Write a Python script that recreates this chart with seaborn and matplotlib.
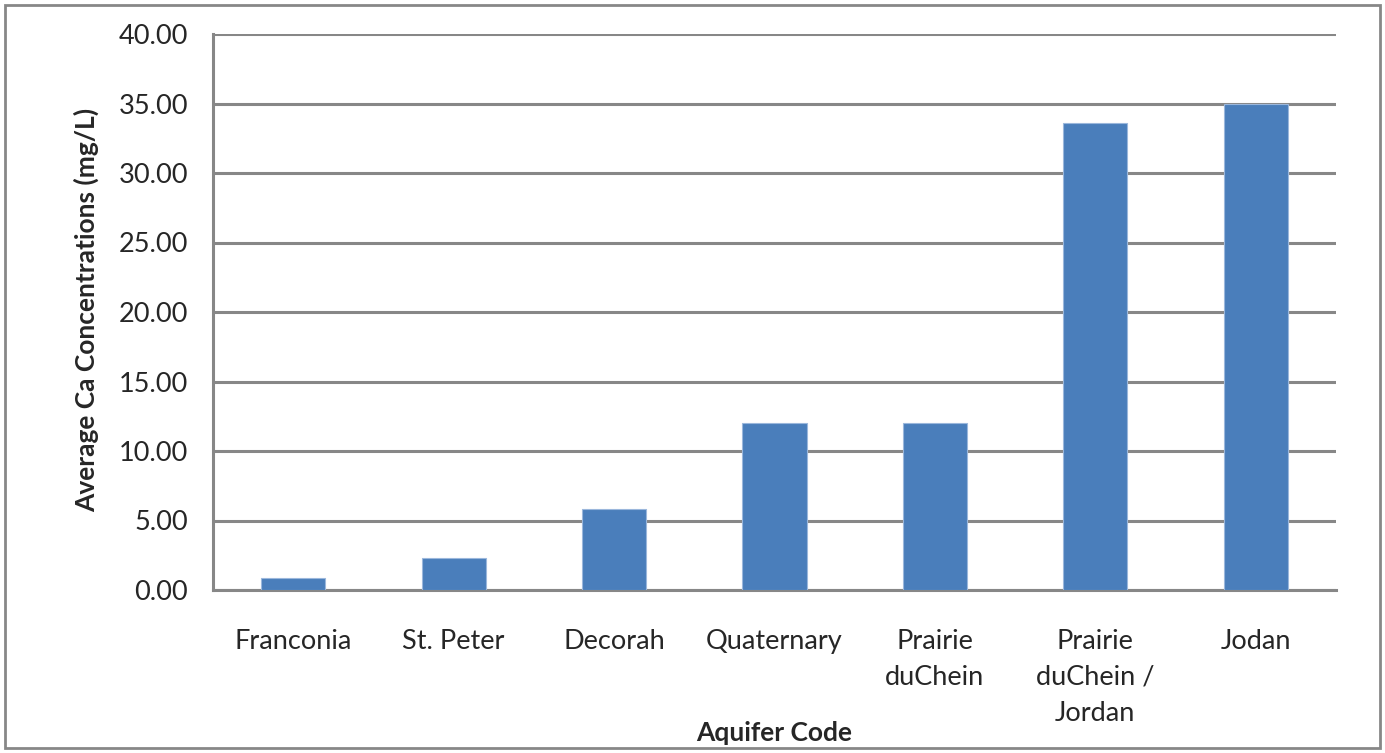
import numpy as np
import pandas as pd
import seaborn as sns
import matplotlib.pyplot as plt
from matplotlib.patches import Rectangle

aquifers = ["Franconia", "St. Peter", "Decorah", "Quaternary",
            "Prairie\nduChein", "Prairie\nduChein /\nJordan", "Jodan"]
avg_ca = [0.86, 2.3, 5.8, 12.0, 12.0, 33.6, 35.0]

df = pd.DataFrame({"aquifer": aquifers, "ca": avg_ca})

sns.set_style("white")
plt.rcParams['font.family'] = ['Lato', 'DejaVu Sans']
gray = "#878787"

fig = plt.figure(figsize=(13.85, 7.53), dpi=100)
ax = fig.add_axes([213/1385, 1-590/753, (1336-213)/1385, (590-34)/753])

sns.barplot(data=df, x="aquifer", y="ca", color="#4a7ebb", width=0.4,
            saturation=1, edgecolor="#9bb7dc", linewidth=0.8, ax=ax, zorder=3)

ax.set_ylim(0, 40)
ax.set_xlim(-0.5, len(aquifers) - 0.5)
ax.set_yticks(np.arange(0, 41, 5))
ax.set_yticklabels([f"{v:.2f}" for v in np.arange(0, 41, 5)], fontsize=19.5)
ax.yaxis.grid(True, color=gray, linewidth=2.2, zorder=0)
ax.set_axisbelow(True)

ax.set_xticks(np.arange(-0.5, len(aquifers)), minor=True)
ax.tick_params(axis="x", which="major", length=0, pad=28, labelsize=19.5)
ax.tick_params(axis="x", which="minor", length=6, width=2.2, color=gray, direction="out")
ax.tick_params(axis="y", length=6, width=2.2, color=gray, direction="out", pad=12)
for lbl in ax.get_xticklabels():
    lbl.set_verticalalignment("top")
    lbl.set_linespacing(1.55)

for side in ["top", "right"]:
    ax.spines[side].set_visible(False)
for side in ["left", "bottom"]:
    ax.spines[side].set_color(gray)
    ax.spines[side].set_linewidth(2.2)

ax.set_xlabel("")
ax.set_ylabel("")
fig.text(774/1385, 1-733/753, "Aquifer Code", fontsize=19, fontweight="bold",
         ha="center", va="center")
fig.text(86/1385, 1-310/753, "Average Ca Concentrations (mg/L)", fontsize=19,
         fontweight="bold", rotation=90, ha="center", va="center")

fig.patches.append(Rectangle((5/1385, 5/753), 1375/1385, 743/753, transform=fig.transFigure,
                             fill=False, edgecolor=gray, linewidth=2))

fig.savefig("out.png", dpi=100)
